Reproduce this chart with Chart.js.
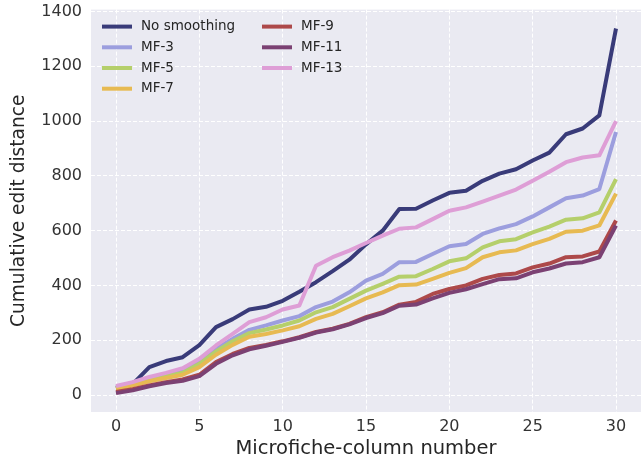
<!DOCTYPE html>
<html>
<head>
<meta charset="utf-8">
<script src="https://cdn.jsdelivr.net/npm/chart.js@4.4.1/dist/chart.umd.min.js"></script>
<style>
  html, body { margin: 0; padding: 0; background: #fff; }
  #wrap { width: 643px; height: 461px; }
</style>
</head>
<body>
<div id="wrap"><canvas id="myChart"></canvas></div>
<script>
// column numbers on the x axis
var columns = [0, 1, 2, 3, 4, 5, 6, 7, 8, 9, 10, 11, 12, 13, 14, 15, 16, 17, 18, 19, 20, 21, 22, 23, 24, 25, 26, 27, 28, 29, 30];

var noSmoothing = [25, 40, 102, 124, 138, 182, 248, 277, 312, 322, 344, 377, 412, 452, 494, 550, 600, 679, 680, 710, 738, 746, 782, 808, 824, 856, 885, 952, 973, 1021, 1338];
var mf3 = [29, 45, 62, 78, 90, 126, 169, 205, 238, 254, 272, 288, 321, 341, 375, 418, 442, 485, 486, 515, 543, 551, 588, 608, 624, 652, 685, 718, 728, 752, 960];
var mf5 = [25, 38, 53, 69, 81, 114, 159, 196, 226, 239, 254, 272, 302, 321, 351, 381, 406, 432, 434, 460, 488, 499, 539, 561, 569, 594, 615, 640, 645, 667, 788];
var mf7 = [23, 35, 50, 62, 74, 102, 147, 183, 213, 223, 236, 251, 278, 296, 324, 353, 375, 401, 403, 424, 446, 463, 503, 521, 528, 551, 570, 596, 600, 619, 735];
var mf9 = [11, 21, 35, 47, 57, 74, 120, 150, 172, 183, 196, 211, 230, 242, 260, 284, 302, 330, 340, 369, 387, 400, 424, 438, 444, 466, 480, 503, 506, 524, 637];
var mf11 = [7, 17, 32, 44, 52, 69, 114, 145, 167, 180, 194, 209, 228, 240, 258, 281, 299, 326, 330, 353, 373, 386, 405, 423, 426, 448, 462, 480, 485, 503, 619];
var mf13 = [33, 47, 66, 81, 98, 132, 181, 223, 266, 284, 312, 327, 472, 503, 527, 555, 582, 607, 612, 642, 673, 685, 706, 728, 750, 782, 815, 850, 867, 875, 1000];

var seriesNames = ["No smoothing", "MF-3", "MF-5", "MF-7", "MF-9", "MF-11", "MF-13"];
var seriesValues = [noSmoothing, mf3, mf5, mf7, mf9, mf11, mf13];
var seriesColors = ["#393b79", "#9c9ede", "#b5cf6b", "#e7ba52", "#ad494a", "#7b4173", "#de9ed6"];

var yTicks = [0, 200, 400, 600, 800, 1000, 1200, 1400];
var xTicks = [0, 5, 10, 15, 20, 25, 30];

var datasets = seriesNames.map(function (name, k) {
    return {
        label: name,
        data: columns.map(function (c, i) { return { x: c, y: seriesValues[k][i] }; }),
        borderColor: seriesColors[k],
        backgroundColor: seriesColors[k],
        borderWidth: 4,
        pointRadius: 0,
        tension: 0,
        borderJoinStyle: 'round',
        order: seriesNames.length - k
    };
});

// grey panel behind the lines
var panelBg = {
    id: 'panelBg',
    beforeDraw: function (chart) {
        var a = chart.chartArea, ctx = chart.ctx;
        ctx.save();
        ctx.fillStyle = '#eaeaf2';
        ctx.fillRect(a.left, a.top, a.right - a.left, a.bottom - a.top);
        ctx.restore();
    }
};

// two column legend, like matplotlib ncol=2
var twoColLegend = {
    id: 'twoColLegend',
    afterDraw: function (chart) {
        var a = chart.chartArea, ctx = chart.ctx;
        ctx.save();
        ctx.font = '13.5px "DejaVu Sans"';
        ctx.textBaseline = 'middle';
        ctx.fillStyle = '#262626';
        chart.data.datasets.forEach(function (ds, i) {
            var col = i < 4 ? 0 : 1;
            var row = i < 4 ? i : i - 4;
            var x0 = a.left + 11 + col * 160;
            var y0 = a.top + 17 + row * 20.7;
            ctx.strokeStyle = ds.borderColor;
            ctx.lineWidth = 4;
            ctx.beginPath();
            ctx.moveTo(x0, y0);
            ctx.lineTo(x0 + 30, y0);
            ctx.stroke();
            ctx.fillText(ds.label, x0 + 39, y0);
        });
        ctx.restore();
    }
};

var ctx = document.getElementById('myChart').getContext('2d');

var chart = new Chart(ctx, {
    type: 'line',
    data: { datasets: datasets },
    options: {
        responsive: true,
        maintainAspectRatio: false,
        animation: false,
        layout: { padding: { top: 0, right: 2, left: 0, bottom: 0 } },
        plugins: {
            legend: { display: false },
            tooltip: { enabled: false }
        },
        scales: {
            x: {
                type: 'linear',
                min: -1.5,
                max: 31.5,
                afterBuildTicks: function (axis) {
                    axis.ticks = xTicks.map(function (v) { return { value: v }; });
                },
                afterFit: function (axis) { axis.height = 49; },
                ticks: {
                    padding: 0,
                    color: '#333',
                    font: { family: 'DejaVu Sans', size: 16 },
                    callback: function (v) { return String(v); }
                },
                grid: { color: '#ffffff', lineWidth: 1, drawTicks: true, tickLength: 5, tickColor: 'rgba(0,0,0,0)' },
                border: { display: false, dash: [4, 2] },
                title: {
                    display: true,
                    text: 'Microfiche-column number',
                    color: '#262626',
                    font: { family: 'DejaVu Sans', size: 19.5 },
                    padding: { top: 0, bottom: 0 }
                }
            },
            y: {
                type: 'linear',
                min: -62,
                max: 1407,
                afterBuildTicks: function (axis) {
                    axis.ticks = yTicks.map(function (v) { return { value: v }; });
                },
                afterFit: function (axis) { axis.width = 91; },
                ticks: {
                    padding: 0,
                    color: '#333',
                    font: { family: 'DejaVu Sans', size: 16 },
                    callback: function (v) { return String(v); }
                },
                grid: { color: '#ffffff', lineWidth: 1, drawTicks: true, tickLength: 9, tickColor: 'rgba(0,0,0,0)' },
                border: { display: false, dash: [4, 2] },
                title: {
                    display: true,
                    text: 'Cumulative edit distance',
                    color: '#262626',
                    font: { family: 'DejaVu Sans', size: 18.6 },
                    padding: { top: 8, bottom: 0 }
                }
            }
        }
    },
    plugins: [panelBg, twoColLegend]
});
</script>
</body>
</html>
